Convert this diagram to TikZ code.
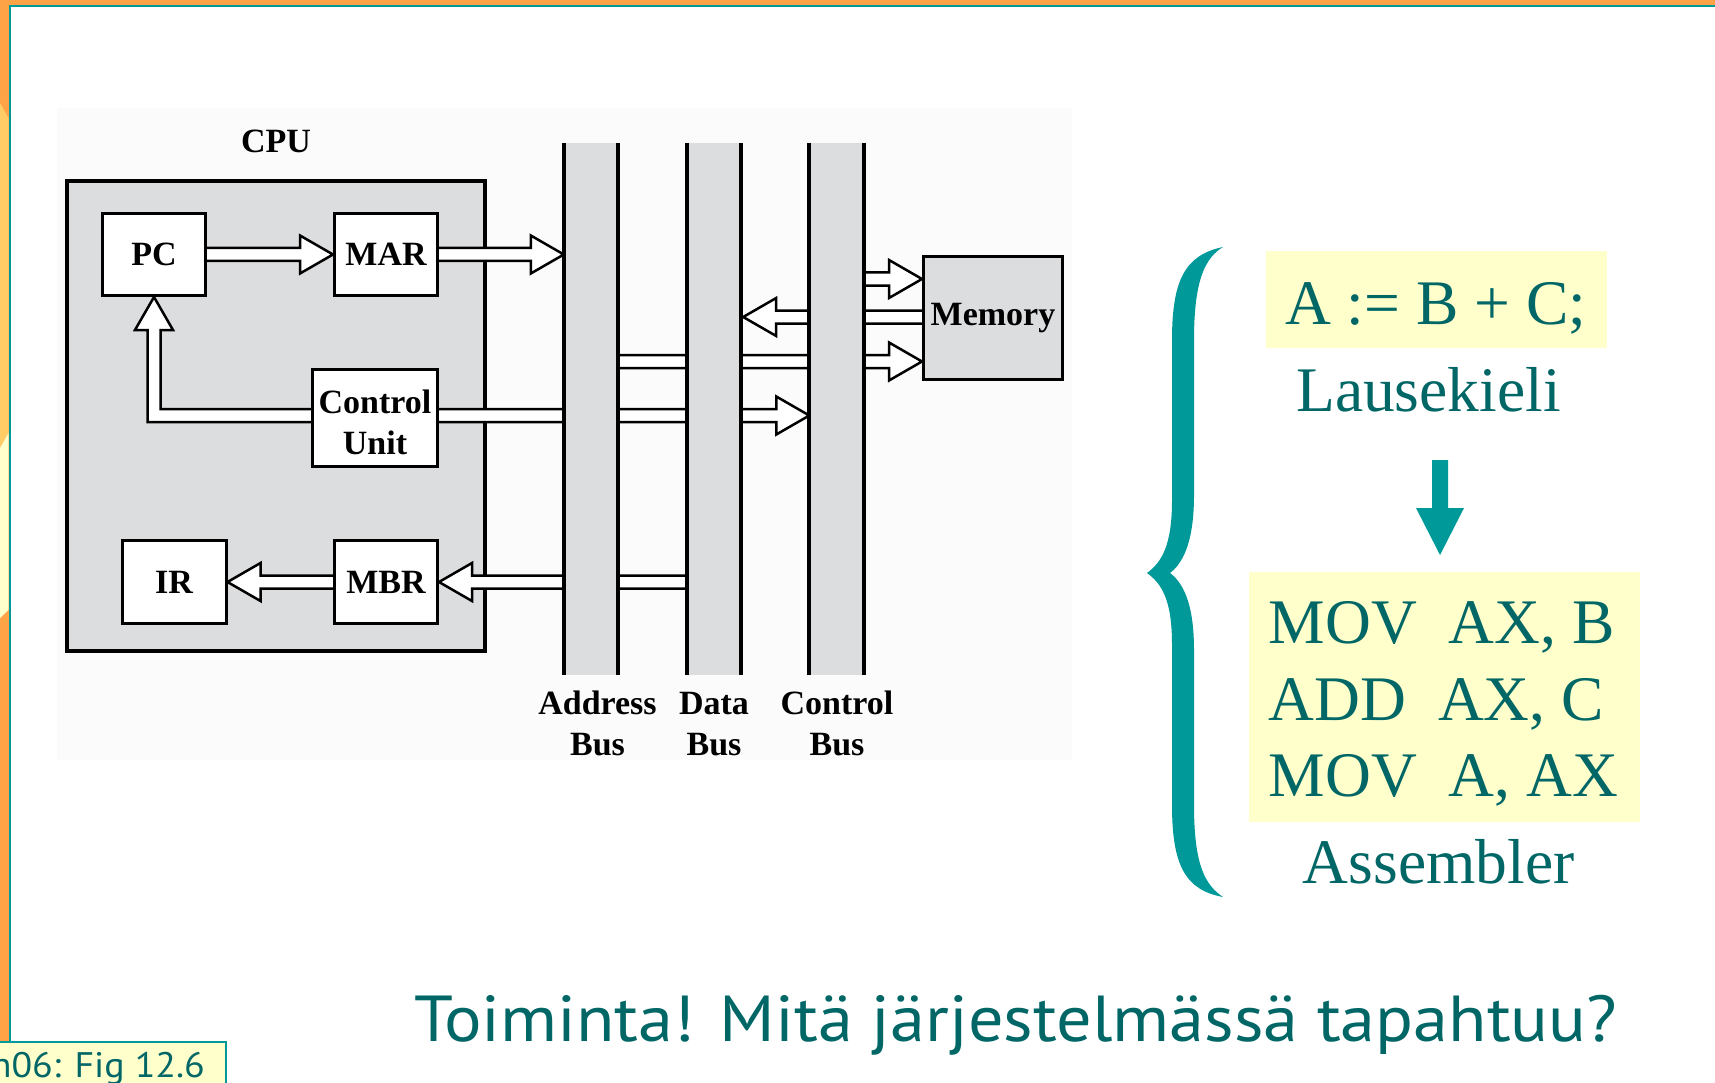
\documentclass[tikz,border=0pt]{standalone}
\usepackage{fontspec}
\setmainfont{Liberation Serif}
\newfontfamily\sansf{PT Sans}
\usetikzlibrary{calc}
\definecolor{orng}{HTML}{FFA347}
\definecolor{lorng}{HTML}{FFCC66}
\definecolor{pyel}{HTML}{FFFFCC}
\definecolor{teal1}{HTML}{009999}
\definecolor{teal2}{HTML}{006666}
\definecolor{busgray}{HTML}{DCDDDF}
\definecolor{figbg}{HTML}{FBFBFB}
\pgfdeclarelayer{bglayer}
\pgfdeclarelayer{arrlayer}
\pgfdeclarelayer{buslayer}
\pgfsetlayers{bglayer,arrlayer,buslayer,main}
\def\sh{6.5}
\def\hh{19}
\def\hl{33}
% #1 start, #2 tip (same y), #3 = 1 (points right) or -1 (points left)
\newcommand\hollowArrow[3]{%
  \draw[harrow] ($(#1)+(0,-\sh)$) -- ($(#2)+({-#3*\hl},-\sh)$) -- ($(#2)+({-#3*\hl},-\hh)$) -- (#2)
   -- ($(#2)+({-#3*\hl},\hh)$) -- ($(#2)+({-#3*\hl},\sh)$) -- ($(#1)+(0,\sh)$);}
\begin{document}
\begin{tikzpicture}[x=1pt,y=-1pt,
  lbl/.style={font={\bfseries\fontsize{34}{41}\selectfont}, inner sep=0},
  regbox/.style={draw=black, fill=white, line width=3pt, inner sep=0, font={\bfseries\fontsize{34}{41}\selectfont}},
  harrow/.style={draw=black, fill=white, line width=2.5pt, line join=miter, miter limit=10},
  busfill/.style={fill=busgray, draw=none, inner sep=0, minimum width=54pt, minimum height=532pt},
  busline/.style={draw=black, line width=4pt},
  rtext/.style={text=teal2, font={\fontsize{63.5}{76}\selectfont}, inner sep=0, anchor=base west},
  ybox/.style={fill=pyel, draw=none, inner sep=0},
]
\useasboundingbox (0,0) rectangle (1715,1083);
\begin{pgfonlayer}{bglayer}
\fill[white] (0,0) rectangle (1715,1083);
% slide frame
\fill[orng] (0,0) rectangle (1715,5.5);
\fill[orng] (0,0) rectangle (8.5,1042);
\fill[lorng] (0,103) -- (8.5,118) -- (8.5,433) -- (0,448) -- cycle;
\fill[pyel] (0,448) -- (8.5,433) -- (8.5,610) -- (0,618) -- cycle;
\fill[teal1] (8.5,5.5) rectangle (1715,7.5);
\fill[teal1] (8.5,5.5) rectangle (10.5,1042);
% figure background
\fill[figbg] (57,108) rectangle (1072,760);
% CPU
\node[draw=black, line width=4.5pt, fill=busgray, minimum width=418pt, minimum height=470pt, inner sep=0] (CPU) at (276,416) {};
\end{pgfonlayer}
\node[lbl, anchor=base] (cpulbl) at (276,153) {CPU};

% registers
\node[regbox, minimum width=103pt, minimum height=82pt] (PC) at (154,254.5) {PC};
\node[regbox, minimum width=103pt, minimum height=82pt] (MAR) at (386,254.5) {MAR};
\node[regbox, minimum width=125pt, minimum height=97pt] (CU) at (375,418) {};
\node[lbl, align=center, font={\bfseries\fontsize{34}{41.7}\selectfont}] (CUtxt) at ($(CU.center)+(0,4.5)$) {Control\\Unit};
\node[regbox, minimum width=104pt, minimum height=83pt] (IR) at (174,582) {IR};
\node[regbox, minimum width=103pt, minimum height=83pt] (MBR) at (386,582) {MBR};
\node[regbox, fill=busgray, minimum width=139pt, minimum height=123pt] (Mem) at (993,318) {Memory};

% buses
\begin{pgfonlayer}{buslayer}
\node[busfill] (AB) at (591,409) {};
\node[busfill] (DB) at (714,409) {};
\node[busfill] (CB) at (836.5,409) {};
\foreach \b in {AB,DB,CB}{
  \draw[busline] (\b.north west) -- (\b.south west);
  \draw[busline] (\b.north east) -- (\b.south east);
}
\end{pgfonlayer}
\node[lbl, anchor=base] (abl1) at ($(AB.south)+(6.5,39)$) {Address};
\node[lbl, anchor=base] (abl2) at ($(AB.south)+(6.5,80)$) {Bus};
\node[lbl, anchor=base] (dbl1) at ($(DB.south)+(0,39)$) {Data};
\node[lbl, anchor=base] (dbl2) at ($(DB.south)+(0,80)$) {Bus};
\node[lbl, anchor=base] (cbl1) at ($(CB.south)+(0.5,39)$) {Control};
\node[lbl, anchor=base] (cbl2) at ($(CB.south)+(0.5,80)$) {Bus};

% hollow arrows
\begin{pgfonlayer}{arrlayer}
\hollowArrow{PC.east}{MAR.west}{1}
\coordinate (a2t) at (AB.west |- MAR.east);
\hollowArrow{MAR.east}{a2t}{1}
\coordinate (a4s) at ($(CU.east)+(0,-2.5)$);
\coordinate (a4t) at (CB.west |- a4s);
\hollowArrow{a4s}{a4t}{1}
\coordinate (a5t) at ($(Mem.west)+(0,-39)$);
\coordinate (a5s) at (CB.center |- a5t);
\hollowArrow{a5s}{a5t}{1}
\coordinate (a6s) at ($(Mem.west)+(0,-1)$);
\coordinate (a6t) at ($(DB.east |- a6s)+(2,0)$);
\hollowArrow{a6s}{a6t}{-1}
\coordinate (a7t) at ($(Mem.west)+(0,43.5)$);
\coordinate (a7s) at (AB.center |- a7t);
\hollowArrow{a7s}{a7t}{1}
\coordinate (a8s) at (DB.center |- MBR.east);
\hollowArrow{a8s}{MBR.east}{-1}
\hollowArrow{MBR.west}{IR.east}{-1}
% Control Unit -> PC (L-shaped)
\coordinate (a3s) at ($(CU.west)+(0,-2.5)$);
\coordinate (a3c) at (PC.south |- a3s);
\draw[harrow] ($(a3s)+(0,-\sh)$) -- ($(a3c)+(\sh,-\sh)$) -- ($(PC.south)+(\sh,\hl)$) -- ($(PC.south)+(\hh,\hl)$)
  -- (PC.south) -- ($(PC.south)+(-\hh,\hl)$) -- ($(PC.south)+(-\sh,\hl)$) -- ($(a3c)+(-\sh,\sh)$) -- ($(a3s)+(0,\sh)$);
\end{pgfonlayer}

% right side
\fill[teal1] (1223,247) .. controls (1185,255) and (1172,280) .. (1172,340) -- (1172,500)
  .. controls (1172,545) and (1162,562) .. (1147,573)
  .. controls (1162,584) and (1172,600) .. (1172,645) -- (1172,805)
  .. controls (1172,865) and (1185,890) .. (1223,897)
  .. controls (1205,885) and (1194,865) .. (1194,805) -- (1194,650)
  .. controls (1194,610) and (1186,585) .. (1170,573)
  .. controls (1186,561) and (1194,535) .. (1194,495) -- (1194,340)
  .. controls (1194,280) and (1205,258) .. (1223,247) -- cycle;
\node[ybox, minimum width=341.5pt, minimum height=96.7pt] (hllbox) at (1436.25,299.35) {};
\node[rtext] (hll) at (1285,324) {A := B + C;};
\node[rtext] (laus) at (1296,411.7) {Lausekieli};
\coordinate (dA) at (1440,460);
\coordinate (dB) at (1440,555);
\fill[teal1] ($(dA)+(-8,0)$) -- ($(dA)+(8,0)$) -- ($(dB)+(8,-47)$) -- ($(dB)+(24,-47)$) -- (dB)
  -- ($(dB)+(-24,-47)$) -- ($(dB)+(-8,-47)$) -- cycle;
\node[ybox, minimum width=391pt, minimum height=250pt] (asmbox) at (1444.5,697) {};
\node[rtext] (asm1) at (1268.6,643.3) {MOV~~AX, B};
\node[rtext] (asm2) at (1268.6,720) {ADD~~AX, C};
\node[rtext] (asm3) at (1268.6,796.7) {MOV~~A, AX};
\node[rtext] (asml) at (1302.7,883.3) {Assembler};

% bottom
\node[anchor=base west, inner sep=0, text=teal2, font={\sansf\fontsize{65}{70}\selectfont}] (quest) at (414,1041)
  {\resizebox{1203pt}{\height}{Toiminta! Mitä järjestelmässä tapahtuu?}};
\node[fill=pyel, draw=teal1, line width=2pt, minimum width=240pt, minimum height=60pt, inner sep=0] (figbox) at (106,1072) {};
\node[anchor=base east, inner sep=0, text=teal2, font={\sansf\fontsize{35.5}{40}\selectfont}] (figtxt) at (205,1077)
  {\resizebox{214pt}{\height}{h06: Fig 12.6}};
\end{tikzpicture}
\end{document}
